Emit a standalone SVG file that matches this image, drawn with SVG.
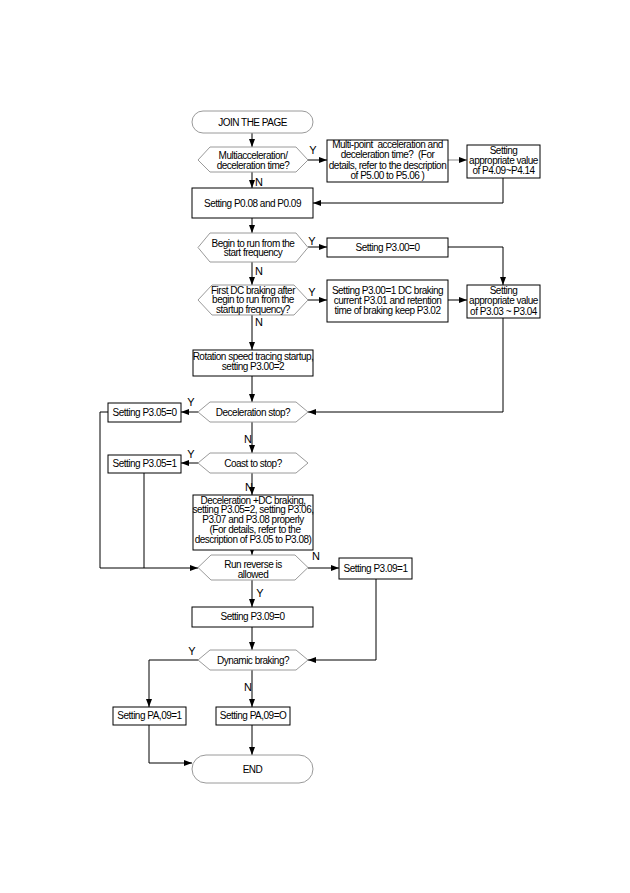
<svg xmlns="http://www.w3.org/2000/svg" width="630" height="893" viewBox="0 0 630 893">
<style>
text{font-family:"Liberation Sans",Arial,sans-serif;font-size:10px;letter-spacing:-0.5px;fill:#000;text-anchor:middle}
.lbl{font-size:11px;letter-spacing:0}
.box{fill:#fff;stroke:#000;stroke-width:1}
.hex{fill:#fff;stroke:#9a9a9a;stroke-width:1}
.term{fill:#fff;stroke:#9a9a9a;stroke-width:1}
.c{fill:none;stroke:#000;stroke-width:1;marker-end:url(#ah)}
.cn{fill:none;stroke:#000;stroke-width:1}
.cg{fill:none;stroke:#888;stroke-width:1;marker-end:url(#ah)}
</style>
<defs>
<marker id="ah" markerUnits="userSpaceOnUse" markerWidth="8" markerHeight="6" refX="8" refY="3" orient="auto">
<path d="M0,0 L8,3 L0,6 z" fill="#000"/>
</marker>
</defs>
<rect width="630" height="893" fill="#fff"/>

<g id="connectors">
<path class="c" d="M252,133 V147"/>
<path class="c" d="M308,160 H327"/>
<path class="cg" d="M448,160 H467"/>
<path class="c" d="M503,178 V203 H313"/>
<path class="c" d="M252,172 V188"/>
<path class="c" d="M252,218 V233"/>
<path class="c" d="M308,247 H327"/>
<path class="c" d="M448,247 H503 V285"/>
<path class="c" d="M252,262 V285"/>
<path class="c" d="M308,300 H327"/>
<path class="c" d="M448,300 H467"/>
<path class="c" d="M503,318 V412 H308"/>
<path class="c" d="M252,315 V350"/>
<path class="c" d="M252,376 V402"/>
<path class="c" d="M198,412 H181"/>
<path class="c" d="M108,412 H100 V568 H198"/>
<path class="c" d="M252,422 V453"/>
<path class="c" d="M198,463 H181"/>
<path class="cn" d="M144,473 V568"/>
<path class="c" d="M252,473 V495"/>
<path class="c" d="M252,550 V555"/>
<path class="c" d="M308,568 H339"/>
<path class="c" d="M376,579 V660 H308"/>
<path class="c" d="M252,580 V607"/>
<path class="c" d="M252,627 V650"/>
<path class="c" d="M198,660 H149 V707"/>
<path class="c" d="M252,670 V707"/>
<path class="c" d="M149,725 V763 H192"/>
<path class="c" d="M252,725 V755"/>
<text class="lbl" x="313" y="154">Y</text>
<text class="lbl" x="259" y="186">N</text>
<text class="lbl" x="312" y="245">Y</text>
<text class="lbl" x="259" y="275">N</text>
<text class="lbl" x="312" y="296">Y</text>
<text class="lbl" x="259" y="326">N</text>
<text class="lbl" x="191" y="406">Y</text>
<text class="lbl" x="248" y="443">N</text>
<text class="lbl" x="191" y="458">Y</text>
<text class="lbl" x="249" y="491">N</text>
<text class="lbl" x="316" y="560">N</text>
<text class="lbl" x="260" y="597">Y</text>
<text class="lbl" x="192" y="655">Y</text>
<text class="lbl" x="248" y="691">N</text>
</g>

<g id="start">
<rect class="term" x="192" y="111" width="121" height="22" rx="11"/>
<text x="252.5" y="125.5">JOIN THE PAGE</text>
</g>

<g id="d-multiacc">
<polygon class="hex" points="198,160 210,147 296,147 308,160 296,172 210,172"/>
<text x="253" y="159">Multiacceleration/</text>
<text x="253" y="168.5">deceleration time?</text>
</g>

<g id="b-multipoint">
<rect class="box" x="327" y="140" width="121" height="42"/>
<text x="387.5" y="147.5">Multi-point&#160; acceleration and</text>
<text x="387.5" y="158">deceleration time?&#160; (For</text>
<text x="387.5" y="168.5">details, refer to the description</text>
<text x="387.5" y="179">of P5.00 to P5.06 )</text>
</g>

<g id="b-p409">
<rect class="box" x="467" y="145" width="73" height="33"/>
<text x="503.5" y="153.5">Setting</text>
<text x="503.5" y="164">appropriate value</text>
<text x="503.5" y="174">of P4.09~P4.14</text>
</g>

<g id="b-p008">
<rect class="box" x="192" y="188" width="121" height="30"/>
<text x="252.5" y="206.5">Setting P0.08 and P0.09</text>
</g>

<g id="d-startfreq">
<polygon class="hex" points="198,247.5 210,233 296,233 308,247.5 296,262 210,262"/>
<text x="253" y="246.5">Begin to run from the</text>
<text x="253" y="256">start frequency</text>
</g>

<g id="b-p300-0">
<rect class="box" x="327" y="238" width="121" height="19"/>
<text x="387.5" y="251">Setting P3.00=0</text>
</g>

<g id="d-dcbrake">
<polygon class="hex" points="198,300 212,285 294,285 308,300 294,315 212,315"/>
<text x="253" y="293.5">First DC braking after</text>
<text x="253" y="303">begin to run from the</text>
<text x="253" y="312.5">startup frequency?</text>
</g>

<g id="b-p300-1">
<rect class="box" x="327" y="280" width="121" height="42"/>
<text x="387.5" y="293.5">Setting P3.00=1 DC braking</text>
<text x="387.5" y="303.5">current P3.01 and retention</text>
<text x="387.5" y="313.5">time of braking keep P3.02</text>
</g>

<g id="b-p303">
<rect class="box" x="467" y="285" width="73" height="33"/>
<text x="503.5" y="293.5">Setting</text>
<text x="503.5" y="304">appropriate value</text>
<text x="503.5" y="314.5">of P3.03 ~ P3.04</text>
</g>

<g id="b-rotation">
<rect class="box" x="193" y="350" width="120" height="26"/>
<text x="253" y="360">Rotation speed tracing startup,</text>
<text x="253" y="369.5">setting P3.00=2</text>
</g>

<g id="d-decstop">
<polygon class="hex" points="198,412 210,402 296,402 308,412 296,422 210,422"/>
<text x="253" y="415.5">Deceleration stop?</text>
</g>

<g id="b-p305-0">
<rect class="box" x="108" y="403" width="73" height="19"/>
<text x="144.5" y="415.5">Setting P3.05=0</text>
</g>

<g id="d-coast">
<polygon class="hex" points="198,463 210,453 296,453 308,463 296,473 210,473"/>
<text x="253" y="466.5">Coast to stop?</text>
</g>

<g id="b-p305-1">
<rect class="box" x="108" y="455" width="73" height="18"/>
<text x="144.5" y="467">Setting P3.05=1</text>
</g>

<g id="b-decdc">
<rect class="box" x="193" y="495" width="120" height="55"/>
<text x="253" y="503.5">Deceleration +DC braking,</text>
<text x="253" y="513">setting P3.05=2, setting P3.06,</text>
<text x="253" y="523">P3.07 and P3.08 properly</text>
<text x="255" y="533">(For details, refer to the</text>
<text x="253" y="543">description of P3.05 to P3.08)</text>
</g>

<g id="d-reverse">
<polygon class="hex" points="198,567.5 211,555 295,555 308,567.5 295,580 211,580"/>
<text x="253" y="567.5">Run reverse is</text>
<text x="253" y="577.5">allowed</text>
</g>

<g id="b-p309-1">
<rect class="box" x="339" y="558" width="73" height="21"/>
<text x="375.5" y="571.5">Setting P3.09=1</text>
</g>

<g id="b-p309-0">
<rect class="box" x="192" y="607" width="121" height="20"/>
<text x="252.5" y="620">Setting P3.09=0</text>
</g>

<g id="d-dynamic">
<polygon class="hex" points="198,660 210,650 296,650 308,660 296,670 210,670"/>
<text x="253" y="663.5">Dynamic braking?</text>
</g>

<g id="b-pa09-1">
<rect class="box" x="113" y="707" width="73" height="18"/>
<text x="149.5" y="719">Setting PA,09=1</text>
</g>

<g id="b-pa09-0">
<rect class="box" x="216" y="707" width="74" height="18"/>
<text x="253" y="719">Setting PA,09=O</text>
</g>

<g id="end">
<rect class="term" x="192" y="755" width="121" height="28" rx="14"/>
<text x="252.5" y="772.5">END</text>
</g>
</svg>
